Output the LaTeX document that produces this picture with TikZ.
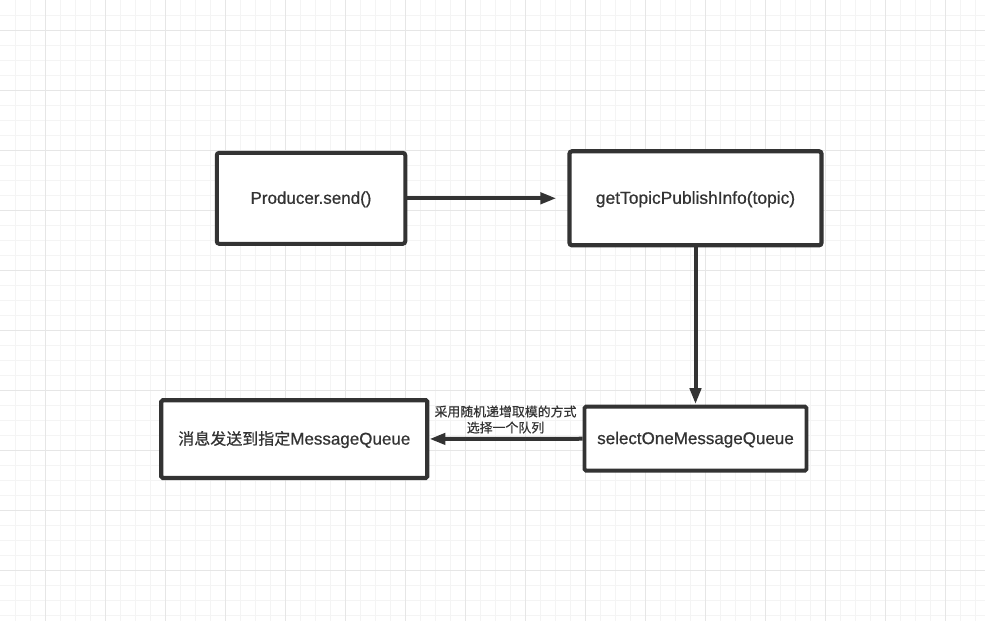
\documentclass[tikz,border=0pt]{standalone}
\usepackage{fontspec}
\setmainfont{Liberation Sans}
\newfontfamily\cjk{Noto Sans CJK SC}[FakeBold=0.5]
\newfontfamily\lat{Liberation Sans}[FakeBold=0.7]
\usetikzlibrary{arrows.meta}
\definecolor{ink}{HTML}{333333}
\definecolor{minorgrid}{HTML}{F4F4F4}
\definecolor{majorgrid}{HTML}{E6E6E6}
\tikzset{
  flowbox/.style={draw=ink,fill=white,line width=#1,rounded corners=2.5pt,inner sep=0pt,text=ink,font=\lat\fontsize{17}{20}\selectfont,text height=13pt,text depth=2pt},
  flowarrow/.style={draw=ink,line width=4pt,-{Triangle[length=16pt,width=11pt]}},
  notelabel/.style={text=ink,font=\cjk\fontsize{12.9}{16}\selectfont,align=center,inner sep=0pt}
}
\begin{document}
\begin{tikzpicture}[x=1pt,y=-1pt]
\useasboundingbox (0,0) rectangle (985,621);
\fill[white] (0,0) rectangle (985,621);
\foreach \i in {0,...,65} \draw[minorgrid,line width=1pt] (15.5+15*\i,0) -- (15.5+15*\i,621);
\foreach \i in {0,...,41} \draw[minorgrid,line width=1pt] (0,15.2+15*\i) -- (985,15.2+15*\i);
\foreach \i in {0,...,15} \draw[majorgrid,line width=1pt] (45.5+60*\i,0) -- (45.5+60*\i,621);
\foreach \i in {0,...,10} \draw[majorgrid,line width=1pt] (0,30.2+60*\i) -- (985,30.2+60*\i);

\node[flowbox=4pt,minimum width=188.5pt,minimum height=91pt] (producer) at (311,198.3) {Producer.send()};
\node[flowbox=4.2pt,minimum width=252pt,minimum height=94pt,font=\lat\fontsize{17.4}{20}\selectfont] (topic) at (695.5,198.3) {getTopicPublishInfo(topic)};
\node[flowbox=4.2pt,minimum width=266pt,minimum height=77.7pt,rounded corners=1.5pt] (target) at (294.3,439.1) {{\cjk\fontsize{16}{20}\selectfont 消息发送到指定}MessageQueue};
\node[flowbox=3.8pt,minimum width=222pt,minimum height=64pt,rounded corners=1.5pt] (select) at (695.5,438.6) {selectOneMessageQueue};

\node[notelabel] (note) at (505.5,419.5) {采用随机递增取模的方式\\选择一个队列};

\draw[flowarrow,shorten >=11pt] (producer) -- (topic);
\draw[flowarrow,shorten >=0.5pt] (topic) -- (select);
\draw[flowarrow] (select) -- (target);
\end{tikzpicture}
\end{document}
